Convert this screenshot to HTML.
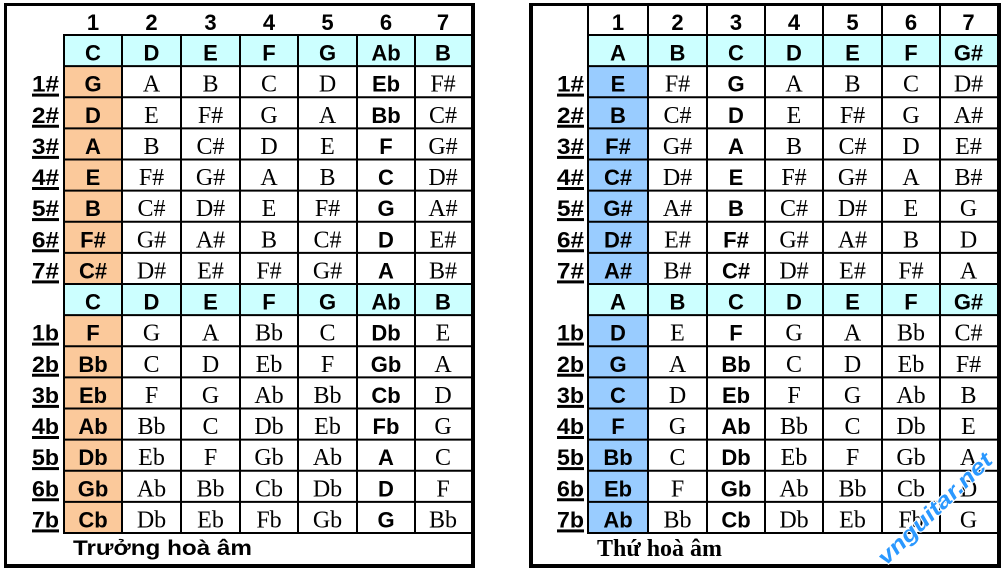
<!DOCTYPE html>
<html><head><meta charset="utf-8"><style>
html,body{margin:0;padding:0;background:#fff;}
svg{display:block;}
.b{font-family:"Liberation Sans",Arial,sans-serif;font-weight:bold;font-size:22px;text-anchor:middle;fill:#000;}
.s{font-family:"Liberation Serif","Times New Roman",serif;font-size:24px;text-anchor:middle;fill:#000;}
.l{font-family:"Liberation Sans",Arial,sans-serif;font-weight:bold;font-size:22px;text-anchor:end;fill:#000;}
</style></head><body>
<svg width="1004" height="571" viewBox="0 0 1004 571" xmlns="http://www.w3.org/2000/svg">
<rect width="1004" height="571" fill="#fff"/>
<rect x="64" y="35" width="407" height="31.125" fill="#ccffff"/>
<rect x="64" y="284" width="407" height="31.125" fill="#ccffff"/>
<rect x="64" y="66.125" width="58" height="217.875" fill="#fbc99b"/>
<rect x="64" y="315.125" width="58" height="217.875" fill="#fbc99b"/>
<rect x="588" y="35" width="409" height="31.125" fill="#ccffff"/>
<rect x="588" y="284" width="409" height="31.125" fill="#ccffff"/>
<rect x="588" y="66.125" width="60" height="217.875" fill="#99ccff"/>
<rect x="588" y="315.125" width="60" height="217.875" fill="#99ccff"/>
<g stroke="#000" stroke-width="2">
<line x1="64" x2="471" y1="35" y2="35"/><line x1="64" x2="471" y1="66.125" y2="66.125"/><line x1="64" x2="471" y1="97.25" y2="97.25"/><line x1="64" x2="471" y1="128.375" y2="128.375"/><line x1="64" x2="471" y1="159.5" y2="159.5"/><line x1="64" x2="471" y1="190.625" y2="190.625"/><line x1="64" x2="471" y1="221.75" y2="221.75"/><line x1="64" x2="471" y1="252.875" y2="252.875"/><line x1="64" x2="471" y1="284" y2="284"/><line x1="64" x2="471" y1="315.125" y2="315.125"/><line x1="64" x2="471" y1="346.25" y2="346.25"/><line x1="64" x2="471" y1="377.375" y2="377.375"/><line x1="64" x2="471" y1="408.5" y2="408.5"/><line x1="64" x2="471" y1="439.625" y2="439.625"/><line x1="64" x2="471" y1="470.75" y2="470.75"/><line x1="64" x2="471" y1="501.875" y2="501.875"/><line x1="64" x2="471" y1="533" y2="533"/>
<line x1="64" x2="64" y1="34" y2="534"/><line x1="122" x2="122" y1="34" y2="534"/><line x1="181" x2="181" y1="34" y2="534"/><line x1="240" x2="240" y1="34" y2="534"/><line x1="298" x2="298" y1="34" y2="534"/><line x1="357" x2="357" y1="34" y2="534"/><line x1="415" x2="415" y1="34" y2="534"/>
<line x1="588" x2="997" y1="35" y2="35"/><line x1="588" x2="997" y1="66.125" y2="66.125"/><line x1="588" x2="997" y1="97.25" y2="97.25"/><line x1="588" x2="997" y1="128.375" y2="128.375"/><line x1="588" x2="997" y1="159.5" y2="159.5"/><line x1="588" x2="997" y1="190.625" y2="190.625"/><line x1="588" x2="997" y1="221.75" y2="221.75"/><line x1="588" x2="997" y1="252.875" y2="252.875"/><line x1="588" x2="997" y1="284" y2="284"/><line x1="588" x2="997" y1="315.125" y2="315.125"/><line x1="588" x2="997" y1="346.25" y2="346.25"/><line x1="588" x2="997" y1="377.375" y2="377.375"/><line x1="588" x2="997" y1="408.5" y2="408.5"/><line x1="588" x2="997" y1="439.625" y2="439.625"/><line x1="588" x2="997" y1="470.75" y2="470.75"/><line x1="588" x2="997" y1="501.875" y2="501.875"/><line x1="588" x2="997" y1="533" y2="533"/>
<line x1="588" x2="588" y1="6" y2="534"/><line x1="648" x2="648" y1="6" y2="534"/><line x1="707" x2="707" y1="6" y2="534"/><line x1="765" x2="765" y1="6" y2="534"/><line x1="823" x2="823" y1="6" y2="534"/><line x1="882" x2="882" y1="6" y2="534"/><line x1="940" x2="940" y1="6" y2="534"/>
</g>
<g fill="#000">
<rect x="4" y="3" width="471" height="3"/><rect x="4" y="3" width="3" height="565"/><rect x="471" y="3" width="4" height="565"/><rect x="4" y="564" width="471" height="4"/>
<rect x="529" y="3" width="472" height="3"/><rect x="529" y="3" width="4" height="565"/><rect x="997" y="3" width="4" height="565"/><rect x="529" y="564" width="472" height="4"/>
</g>

<text class="b" x="93" y="30">1</text><text class="b" x="151.5" y="30">2</text><text class="b" x="210.5" y="30">3</text><text class="b" x="269" y="30">4</text><text class="b" x="327.5" y="30">5</text><text class="b" x="386" y="30">6</text><text class="b" x="443" y="30">7</text>
<text class="b" x="93" y="60.5">C</text><text class="b" x="151.5" y="60.5">D</text><text class="b" x="210.5" y="60.5">E</text><text class="b" x="269" y="60.5">F</text><text class="b" x="327.5" y="60.5">G</text><text class="b" x="386" y="60.5">Ab</text><text class="b" x="443" y="60.5">B</text>
<text class="b" x="93" y="309.5">C</text><text class="b" x="151.5" y="309.5">D</text><text class="b" x="210.5" y="309.5">E</text><text class="b" x="269" y="309.5">F</text><text class="b" x="327.5" y="309.5">G</text><text class="b" x="386" y="309.5">Ab</text><text class="b" x="443" y="309.5">B</text>
<text class="b" x="93" y="91.6">G</text><text class="s" x="151.5" y="91.6">A</text><text class="s" x="210.5" y="91.6">B</text><text class="s" x="269" y="91.6">C</text><text class="s" x="327.5" y="91.6">D</text><text class="b" x="386" y="91.6">Eb</text><text class="s" x="443" y="91.6">F#</text>
<text class="b" x="93" y="122.75">D</text><text class="s" x="151.5" y="122.75">E</text><text class="s" x="210.5" y="122.75">F#</text><text class="s" x="269" y="122.75">G</text><text class="s" x="327.5" y="122.75">A</text><text class="b" x="386" y="122.75">Bb</text><text class="s" x="443" y="122.75">C#</text>
<text class="b" x="93" y="153.9">A</text><text class="s" x="151.5" y="153.9">B</text><text class="s" x="210.5" y="153.9">C#</text><text class="s" x="269" y="153.9">D</text><text class="s" x="327.5" y="153.9">E</text><text class="b" x="386" y="153.9">F</text><text class="s" x="443" y="153.9">G#</text>
<text class="b" x="93" y="185">E</text><text class="s" x="151.5" y="185">F#</text><text class="s" x="210.5" y="185">G#</text><text class="s" x="269" y="185">A</text><text class="s" x="327.5" y="185">B</text><text class="b" x="386" y="185">C</text><text class="s" x="443" y="185">D#</text>
<text class="b" x="93" y="216.1">B</text><text class="s" x="151.5" y="216.1">C#</text><text class="s" x="210.5" y="216.1">D#</text><text class="s" x="269" y="216.1">E</text><text class="s" x="327.5" y="216.1">F#</text><text class="b" x="386" y="216.1">G</text><text class="s" x="443" y="216.1">A#</text>
<text class="b" x="93" y="247.25">F#</text><text class="s" x="151.5" y="247.25">G#</text><text class="s" x="210.5" y="247.25">A#</text><text class="s" x="269" y="247.25">B</text><text class="s" x="327.5" y="247.25">C#</text><text class="b" x="386" y="247.25">D</text><text class="s" x="443" y="247.25">E#</text>
<text class="b" x="93" y="278.4">C#</text><text class="s" x="151.5" y="278.4">D#</text><text class="s" x="210.5" y="278.4">E#</text><text class="s" x="269" y="278.4">F#</text><text class="s" x="327.5" y="278.4">G#</text><text class="b" x="386" y="278.4">A</text><text class="s" x="443" y="278.4">B#</text>
<text class="b" x="93" y="340.6">F</text><text class="s" x="151.5" y="340.6">G</text><text class="s" x="210.5" y="340.6">A</text><text class="s" x="269" y="340.6">Bb</text><text class="s" x="327.5" y="340.6">C</text><text class="b" x="386" y="340.6">Db</text><text class="s" x="443" y="340.6">E</text>
<text class="b" x="93" y="371.75">Bb</text><text class="s" x="151.5" y="371.75">C</text><text class="s" x="210.5" y="371.75">D</text><text class="s" x="269" y="371.75">Eb</text><text class="s" x="327.5" y="371.75">F</text><text class="b" x="386" y="371.75">Gb</text><text class="s" x="443" y="371.75">A</text>
<text class="b" x="93" y="402.9">Eb</text><text class="s" x="151.5" y="402.9">F</text><text class="s" x="210.5" y="402.9">G</text><text class="s" x="269" y="402.9">Ab</text><text class="s" x="327.5" y="402.9">Bb</text><text class="b" x="386" y="402.9">Cb</text><text class="s" x="443" y="402.9">D</text>
<text class="b" x="93" y="434">Ab</text><text class="s" x="151.5" y="434">Bb</text><text class="s" x="210.5" y="434">C</text><text class="s" x="269" y="434">Db</text><text class="s" x="327.5" y="434">Eb</text><text class="b" x="386" y="434">Fb</text><text class="s" x="443" y="434">G</text>
<text class="b" x="93" y="465.1">Db</text><text class="s" x="151.5" y="465.1">Eb</text><text class="s" x="210.5" y="465.1">F</text><text class="s" x="269" y="465.1">Gb</text><text class="s" x="327.5" y="465.1">Ab</text><text class="b" x="386" y="465.1">A</text><text class="s" x="443" y="465.1">C</text>
<text class="b" x="93" y="496.25">Gb</text><text class="s" x="151.5" y="496.25">Ab</text><text class="s" x="210.5" y="496.25">Bb</text><text class="s" x="269" y="496.25">Cb</text><text class="s" x="327.5" y="496.25">Db</text><text class="b" x="386" y="496.25">D</text><text class="s" x="443" y="496.25">F</text>
<text class="b" x="93" y="527.4">Cb</text><text class="s" x="151.5" y="527.4">Db</text><text class="s" x="210.5" y="527.4">Eb</text><text class="s" x="269" y="527.4">Fb</text><text class="s" x="327.5" y="527.4">Gb</text><text class="b" x="386" y="527.4">G</text><text class="s" x="443" y="527.4">Bb</text>
<g>
<text class="l" x="59" y="91.6" textLength="27" lengthAdjust="spacingAndGlyphs">1#</text>
<text class="l" x="59" y="122.75" textLength="27" lengthAdjust="spacingAndGlyphs">2#</text>
<text class="l" x="59" y="153.9" textLength="27" lengthAdjust="spacingAndGlyphs">3#</text>
<text class="l" x="59" y="185" textLength="27" lengthAdjust="spacingAndGlyphs">4#</text>
<text class="l" x="59" y="216.1" textLength="27" lengthAdjust="spacingAndGlyphs">5#</text>
<text class="l" x="59" y="247.25" textLength="27" lengthAdjust="spacingAndGlyphs">6#</text>
<text class="l" x="59" y="278.4" textLength="27" lengthAdjust="spacingAndGlyphs">7#</text>
<text class="l" x="59" y="340.6" textLength="27" lengthAdjust="spacingAndGlyphs">1b</text>
<text class="l" x="59" y="371.75" textLength="27" lengthAdjust="spacingAndGlyphs">2b</text>
<text class="l" x="59" y="402.9" textLength="27" lengthAdjust="spacingAndGlyphs">3b</text>
<text class="l" x="59" y="434" textLength="27" lengthAdjust="spacingAndGlyphs">4b</text>
<text class="l" x="59" y="465.1" textLength="27" lengthAdjust="spacingAndGlyphs">5b</text>
<text class="l" x="59" y="496.25" textLength="27" lengthAdjust="spacingAndGlyphs">6b</text>
<text class="l" x="59" y="527.4" textLength="27" lengthAdjust="spacingAndGlyphs">7b</text>
</g>
<g fill="#000">
<rect x="32" y="93.6" width="27" height="3"/><rect x="32" y="124.75" width="27" height="3"/><rect x="32" y="155.9" width="27" height="3"/><rect x="32" y="187" width="27" height="3"/><rect x="32" y="218.1" width="27" height="3"/><rect x="32" y="249.25" width="27" height="3"/><rect x="32" y="280.4" width="27" height="3"/>
<rect x="32" y="342.6" width="27" height="3"/><rect x="32" y="373.75" width="27" height="3"/><rect x="32" y="404.9" width="27" height="3"/><rect x="32" y="436" width="27" height="3"/><rect x="32" y="467.1" width="27" height="3"/><rect x="32" y="498.25" width="27" height="3"/><rect x="32" y="529.4" width="27" height="3"/>
</g>
<text x="73" y="555" font-family="Liberation Sans, Arial, sans-serif" font-weight="bold" font-size="21" textLength="179" lengthAdjust="spacingAndGlyphs">Trưởng hoà âm</text>

<text class="b" x="618" y="30">1</text><text class="b" x="677.5" y="30">2</text><text class="b" x="736" y="30">3</text><text class="b" x="794" y="30">4</text><text class="b" x="852.5" y="30">5</text><text class="b" x="911" y="30">6</text><text class="b" x="968.5" y="30">7</text>
<text class="b" x="618" y="60.5">A</text><text class="b" x="677.5" y="60.5">B</text><text class="b" x="736" y="60.5">C</text><text class="b" x="794" y="60.5">D</text><text class="b" x="852.5" y="60.5">E</text><text class="b" x="911" y="60.5">F</text><text class="b" x="968.5" y="60.5">G#</text>
<text class="b" x="618" y="309.5">A</text><text class="b" x="677.5" y="309.5">B</text><text class="b" x="736" y="309.5">C</text><text class="b" x="794" y="309.5">D</text><text class="b" x="852.5" y="309.5">E</text><text class="b" x="911" y="309.5">F</text><text class="b" x="968.5" y="309.5">G#</text>
<text class="b" x="618" y="91.6">E</text><text class="s" x="677.5" y="91.6">F#</text><text class="b" x="736" y="91.6">G</text><text class="s" x="794" y="91.6">A</text><text class="s" x="852.5" y="91.6">B</text><text class="s" x="911" y="91.6">C</text><text class="s" x="968.5" y="91.6">D#</text>
<text class="b" x="618" y="122.75">B</text><text class="s" x="677.5" y="122.75">C#</text><text class="b" x="736" y="122.75">D</text><text class="s" x="794" y="122.75">E</text><text class="s" x="852.5" y="122.75">F#</text><text class="s" x="911" y="122.75">G</text><text class="s" x="968.5" y="122.75">A#</text>
<text class="b" x="618" y="153.9">F#</text><text class="s" x="677.5" y="153.9">G#</text><text class="b" x="736" y="153.9">A</text><text class="s" x="794" y="153.9">B</text><text class="s" x="852.5" y="153.9">C#</text><text class="s" x="911" y="153.9">D</text><text class="s" x="968.5" y="153.9">E#</text>
<text class="b" x="618" y="185">C#</text><text class="s" x="677.5" y="185">D#</text><text class="b" x="736" y="185">E</text><text class="s" x="794" y="185">F#</text><text class="s" x="852.5" y="185">G#</text><text class="s" x="911" y="185">A</text><text class="s" x="968.5" y="185">B#</text>
<text class="b" x="618" y="216.1">G#</text><text class="s" x="677.5" y="216.1">A#</text><text class="b" x="736" y="216.1">B</text><text class="s" x="794" y="216.1">C#</text><text class="s" x="852.5" y="216.1">D#</text><text class="s" x="911" y="216.1">E</text><text class="s" x="968.5" y="216.1">G</text>
<text class="b" x="618" y="247.25">D#</text><text class="s" x="677.5" y="247.25">E#</text><text class="b" x="736" y="247.25">F#</text><text class="s" x="794" y="247.25">G#</text><text class="s" x="852.5" y="247.25">A#</text><text class="s" x="911" y="247.25">B</text><text class="s" x="968.5" y="247.25">D</text>
<text class="b" x="618" y="278.4">A#</text><text class="s" x="677.5" y="278.4">B#</text><text class="b" x="736" y="278.4">C#</text><text class="s" x="794" y="278.4">D#</text><text class="s" x="852.5" y="278.4">E#</text><text class="s" x="911" y="278.4">F#</text><text class="s" x="968.5" y="278.4">A</text>
<text class="b" x="618" y="340.6">D</text><text class="s" x="677.5" y="340.6">E</text><text class="b" x="736" y="340.6">F</text><text class="s" x="794" y="340.6">G</text><text class="s" x="852.5" y="340.6">A</text><text class="s" x="911" y="340.6">Bb</text><text class="s" x="968.5" y="340.6">C#</text>
<text class="b" x="618" y="371.75">G</text><text class="s" x="677.5" y="371.75">A</text><text class="b" x="736" y="371.75">Bb</text><text class="s" x="794" y="371.75">C</text><text class="s" x="852.5" y="371.75">D</text><text class="s" x="911" y="371.75">Eb</text><text class="s" x="968.5" y="371.75">F#</text>
<text class="b" x="618" y="402.9">C</text><text class="s" x="677.5" y="402.9">D</text><text class="b" x="736" y="402.9">Eb</text><text class="s" x="794" y="402.9">F</text><text class="s" x="852.5" y="402.9">G</text><text class="s" x="911" y="402.9">Ab</text><text class="s" x="968.5" y="402.9">B</text>
<text class="b" x="618" y="434">F</text><text class="s" x="677.5" y="434">G</text><text class="b" x="736" y="434">Ab</text><text class="s" x="794" y="434">Bb</text><text class="s" x="852.5" y="434">C</text><text class="s" x="911" y="434">Db</text><text class="s" x="968.5" y="434">E</text>
<text class="b" x="618" y="465.1">Bb</text><text class="s" x="677.5" y="465.1">C</text><text class="b" x="736" y="465.1">Db</text><text class="s" x="794" y="465.1">Eb</text><text class="s" x="852.5" y="465.1">F</text><text class="s" x="911" y="465.1">Gb</text><text class="s" x="968.5" y="465.1">A</text>
<text class="b" x="618" y="496.25">Eb</text><text class="s" x="677.5" y="496.25">F</text><text class="b" x="736" y="496.25">Gb</text><text class="s" x="794" y="496.25">Ab</text><text class="s" x="852.5" y="496.25">Bb</text><text class="s" x="911" y="496.25">Cb</text><text class="s" x="968.5" y="496.25">D</text>
<text class="b" x="618" y="527.4">Ab</text><text class="s" x="677.5" y="527.4">Bb</text><text class="b" x="736" y="527.4">Cb</text><text class="s" x="794" y="527.4">Db</text><text class="s" x="852.5" y="527.4">Eb</text><text class="s" x="911" y="527.4">Fb</text><text class="s" x="968.5" y="527.4">G</text>
<g>
<text class="l" x="584" y="91.6" textLength="27" lengthAdjust="spacingAndGlyphs">1#</text>
<text class="l" x="584" y="122.75" textLength="27" lengthAdjust="spacingAndGlyphs">2#</text>
<text class="l" x="584" y="153.9" textLength="27" lengthAdjust="spacingAndGlyphs">3#</text>
<text class="l" x="584" y="185" textLength="27" lengthAdjust="spacingAndGlyphs">4#</text>
<text class="l" x="584" y="216.1" textLength="27" lengthAdjust="spacingAndGlyphs">5#</text>
<text class="l" x="584" y="247.25" textLength="27" lengthAdjust="spacingAndGlyphs">6#</text>
<text class="l" x="584" y="278.4" textLength="27" lengthAdjust="spacingAndGlyphs">7#</text>
<text class="l" x="584" y="340.6" textLength="27" lengthAdjust="spacingAndGlyphs">1b</text>
<text class="l" x="584" y="371.75" textLength="27" lengthAdjust="spacingAndGlyphs">2b</text>
<text class="l" x="584" y="402.9" textLength="27" lengthAdjust="spacingAndGlyphs">3b</text>
<text class="l" x="584" y="434" textLength="27" lengthAdjust="spacingAndGlyphs">4b</text>
<text class="l" x="584" y="465.1" textLength="27" lengthAdjust="spacingAndGlyphs">5b</text>
<text class="l" x="584" y="496.25" textLength="27" lengthAdjust="spacingAndGlyphs">6b</text>
<text class="l" x="584" y="527.4" textLength="27" lengthAdjust="spacingAndGlyphs">7b</text>
</g>
<g fill="#000">
<rect x="557" y="93.6" width="27" height="3"/><rect x="557" y="124.75" width="27" height="3"/><rect x="557" y="155.9" width="27" height="3"/><rect x="557" y="187" width="27" height="3"/><rect x="557" y="218.1" width="27" height="3"/><rect x="557" y="249.25" width="27" height="3"/><rect x="557" y="280.4" width="27" height="3"/>
<rect x="557" y="342.6" width="27" height="3"/><rect x="557" y="373.75" width="27" height="3"/><rect x="557" y="404.9" width="27" height="3"/><rect x="557" y="436" width="27" height="3"/><rect x="557" y="467.1" width="27" height="3"/><rect x="557" y="498.25" width="27" height="3"/><rect x="557" y="529.4" width="27" height="3"/>
</g>
<text x="597" y="556" font-family="Liberation Serif, Times New Roman, serif" font-weight="bold" font-size="24" textLength="125" lengthAdjust="spacingAndGlyphs">Thứ hoà âm</text>

<text transform="translate(886,566) rotate(-44)" x="0" y="0" font-family="Liberation Sans, Arial, sans-serif" font-weight="bold" font-style="italic" font-size="22" fill="#2a98ff" stroke="#fff" stroke-width="2" paint-order="stroke" textLength="150" lengthAdjust="spacingAndGlyphs">vnguitar.net</text>
</svg>
</body></html>
